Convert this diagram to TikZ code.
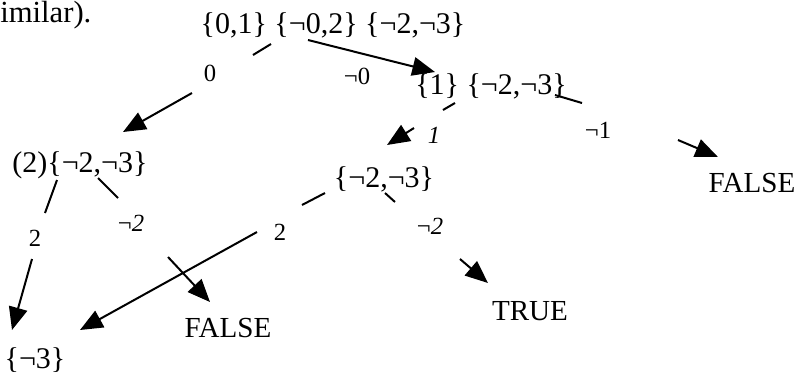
\documentclass[tikz,border=0pt]{standalone}
\usepackage{fontspec}
\setmainfont{Liberation Serif}
\usetikzlibrary{arrows.meta}

\begin{document}
\begin{tikzpicture}[x=0.75pt,y=-0.75pt]
\tikzset{
  setnode/.style={inner sep=0pt, font=\fontsize{22.5}{27}\selectfont},
  endnode/.style={inner sep=0pt, font=\fontsize{21.8}{26}\selectfont},
  branch/.style={inner sep=0pt, font=\fontsize{18.5}{22}\selectfont},
  seg/.style={line width=1.5pt},
  segarrow/.style={line width=1.5pt, -{Triangle[length=17pt,width=14pt]}}
}
\useasboundingbox (0,0) rectangle (808,376);
\node[inner sep=0pt, anchor=base west, font=\fontsize{23}{27}\selectfont] (prev) at (0,22.5) {imilar).};
% sets
\node[setnode] (root) at (333,25) {\{0,1\} \{¬0,2\} \{¬2,¬3\}};
\node[setnode] (s1) at (491,86) {\{1\} \{¬2,¬3\}};
\node[setnode] (s2) at (80,165) {(2)\{¬2,¬3\}};
\node[setnode] (s12) at (384,179) {\{¬2,¬3\}};
\node[setnode] (s3) at (35,360) {\{¬3\}};
\node[endnode] (f1) at (752,183) {FALSE};
\node[endnode] (f2) at (228,328) {FALSE};
\node[endnode] (t1) at (530,311) {TRUE};
% branch labels
\node[branch] (b0) at (210,73) {0};
\node[branch] (bn0) at (357,76) {¬0};
\node[branch] (b1) at (434,135) {\textit{1}};
\node[branch] (bn1) at (598,130) {¬1};
\node[branch] (b2l) at (35,238) {2};
\node[branch] (bn2l) at (131,223) {¬\textit{2}};
\node[branch] (b2r) at (280,232) {2};
\node[branch] (bn2r) at (430,226) {¬\textit{2}};
% segment ends
\coordinate (r0a) at (271,44);  \coordinate (r0b) at (253,55);
\coordinate (r0c) at (192,93);  \coordinate (r0d) at (123,132);
\coordinate (rn0a) at (308,40); \coordinate (rn0d) at (435,72);
\coordinate (r1a) at (455,103); \coordinate (r1b) at (443,110);
\coordinate (r1c) at (414,128); \coordinate (r1d) at (387,145);
\coordinate (rn1a) at (555,95); \coordinate (rn1b) at (582,103);
\coordinate (rn1c) at (678,140); \coordinate (rn1d) at (718,157);
\coordinate (l2a) at (57,180);  \coordinate (l2b) at (45,213);
\coordinate (l2c) at (32,259);  \coordinate (l2d) at (12,330);
\coordinate (ln2a) at (98,178); \coordinate (ln2b) at (118,198);
\coordinate (ln2c) at (168,257); \coordinate (ln2d) at (210,302);
\coordinate (m2a) at (325,193); \coordinate (m2b) at (302,205);
\coordinate (m2c) at (257,232); \coordinate (m2d) at (80,330);
\coordinate (mn2a) at (385,193); \coordinate (mn2b) at (395,202);
\coordinate (mn2c) at (460,259); \coordinate (mn2d) at (488,283);
% edges
\draw[seg] (r0a) -- (r0b);   \draw[segarrow] (r0c) -- (r0d);
\draw[segarrow] (rn0a) -- (rn0d);
\draw[seg] (r1a) -- (r1b);   \draw[segarrow] (r1c) -- (r1d);
\draw[seg] (rn1a) -- (rn1b); \draw[segarrow] (rn1c) -- (rn1d);
\draw[seg] (l2a) -- (l2b);   \draw[segarrow] (l2c) -- (l2d);
\draw[seg] (ln2a) -- (ln2b); \draw[segarrow] (ln2c) -- (ln2d);
\draw[seg] (m2a) -- (m2b);   \draw[segarrow] (m2c) -- (m2d);
\draw[seg] (mn2a) -- (mn2b); \draw[segarrow] (mn2c) -- (mn2d);
\end{tikzpicture}
\end{document}
